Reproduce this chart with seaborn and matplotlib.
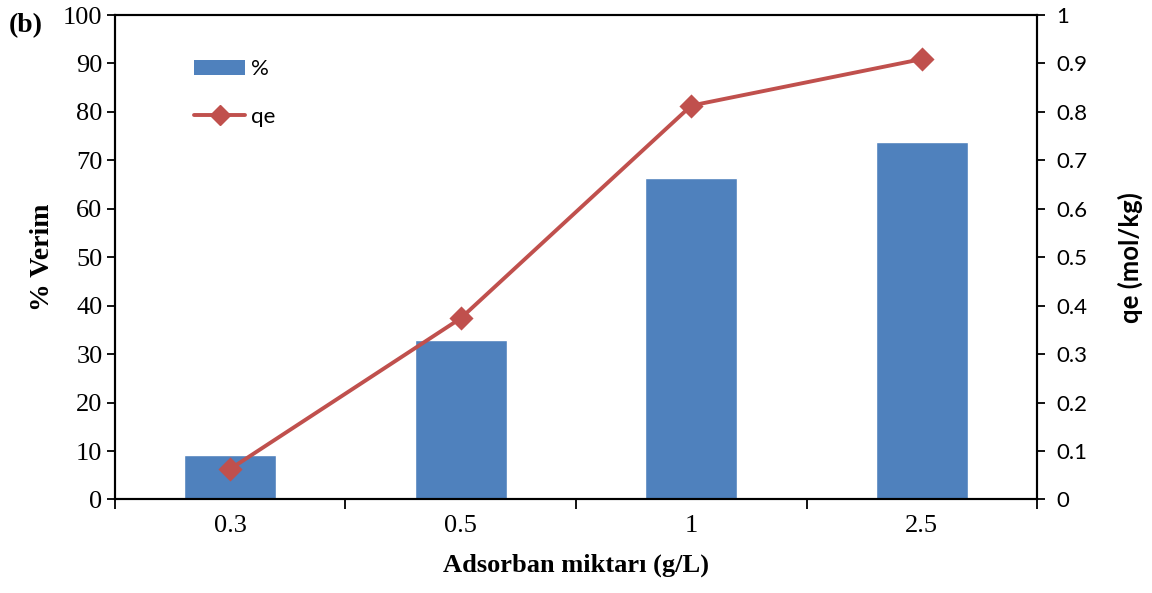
import matplotlib
matplotlib.use("Agg")
import matplotlib.pyplot as plt
import seaborn as sns
import pandas as pd
from matplotlib.ticker import FixedLocator, MultipleLocator, FuncFormatter
from matplotlib.lines import Line2D
from matplotlib.patches import Patch

# Data
doses = ["0.3", "0.5", "1", "2.5"]
yield_pct = [9.1, 32.9, 66.3, 73.8]
qe_values = [0.063, 0.374, 0.813, 0.909]

bar_color = "#4F81BD"
line_color = "#C0504D"
serif = "Liberation Serif"
sans = "Lato"

sns.set_style("white", {"text.color": "black", "axes.labelcolor": "black",
                        "xtick.color": "black", "ytick.color": "black"})
plt.rcParams["font.family"] = [serif, "DejaVu Sans"]

df = pd.DataFrame({"dose": doses, "pct": yield_pct, "qe": qe_values})

fig = plt.figure(figsize=(11.52, 5.93), dpi=100)
ax = fig.add_axes([0.0998, 0.1577, 0.8004, 0.817])

sns.barplot(data=df, x="dose", y="pct", ax=ax, color=bar_color,
            saturation=1, width=0.4, order=doses)

ax2 = ax.twinx()
sns.pointplot(data=df, x="dose", y="qe", ax=ax2, color=line_color,
              markers="D", order=doses, markersize=10, linewidth=2.8)

ax.set_xlim(-0.5, 3.5)
ax.set_ylim(0, 100)
ax2.set_ylim(0, 1)
ax.yaxis.set_major_locator(MultipleLocator(10))
ax2.yaxis.set_major_locator(FixedLocator([i / 10 for i in range(11)]))
ax2.yaxis.set_major_formatter(FuncFormatter(lambda v, p: f"{v:g}"))

# Category labels centred, tick marks on the category boundaries
ax.xaxis.set_minor_locator(FixedLocator([-0.5, 0.5, 1.5, 2.5, 3.5]))
ax.tick_params(axis="x", which="major", length=0, pad=11, labelsize=19,
               labelcolor="black")
ax.tick_params(axis="x", which="minor", length=7, width=1.3, direction="out",
               bottom=True, color="black")
ax.tick_params(axis="y", length=6, width=1.3, direction="out", left=True,
               labelsize=19, pad=3, color="black", labelcolor="black")
ax2.tick_params(axis="y", length=6, width=1.3, direction="out", right=True,
                labelsize=16, pad=8, color="black", labelcolor="black")
for lab in ax2.get_yticklabels():
    lab.set_family(sans)

for a in (ax, ax2):
    for s in a.spines.values():
        s.set_visible(True)
        s.set_color("black")
        s.set_linewidth(1.5)

ax.set_xlabel("Adsorban miktarı (g/L)", fontsize=19, fontweight="bold",
              family=serif, labelpad=12, color="black")
ax.set_ylabel("% Verim", fontsize=20, fontweight="bold", family=serif,
              labelpad=6, color="black")
ax2.set_ylabel("qe (mol/kg)", fontsize=18.5, fontweight="bold", family=sans,
               labelpad=22, color="black")

fig.text(0.008, 0.957, "(b)", fontsize=20, fontweight="bold", family=serif,
         va="center", ha="left", color="black")

handles = [
    Patch(facecolor=bar_color, edgecolor="none"),
    Line2D([], [], color=line_color, lw=2.8, marker="D", markersize=10),
]
leg = ax2.legend(handles, ["%", "qe"], loc="upper left",
                 bbox_to_anchor=(0.064, 0.95), frameon=False,
                 prop={"family": sans, "size": 16}, handlelength=2.3,
                 handleheight=0.63, labelspacing=1.25, handletextpad=0.25,
                 labelcolor="black")

fig.savefig("out.png", dpi=100)
